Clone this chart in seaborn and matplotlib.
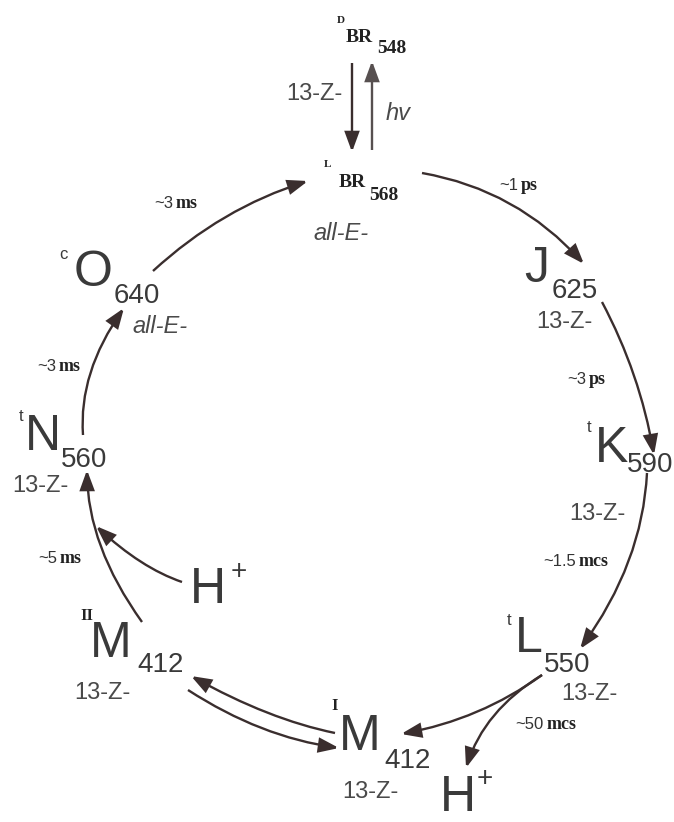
import numpy as np
import matplotlib
matplotlib.use("Agg")
import matplotlib.pyplot as plt
from matplotlib.path import Path
from matplotlib.patches import FancyArrowPatch
import seaborn as sns

# ---------------- data ----------------
states = ["O", "J", "K", "L", "M", "M", "N"]
state_prefix = ["c", "", "t", "t", "I", "II", "t"]
wavelengths = ["640", "625", "590", "550", "412", "412", "560"]
isomers = ["all-E-", "13-Z-", "13-Z-", "13-Z-", "13-Z-", "13-Z-", "13-Z-"]
br_states = ["BR", "BR"]
br_prefix = ["D", "L"]
br_wavelengths = ["548", "568"]
br_isomers = ["13-Z-", "all-E-"]
time_values = ["~3", "~1", "~3", "~1.5", "~50", "~5", "~3"]
time_units = ["ms", "ps", "ps", "mcs", "mcs", "ms", "ms"]
protons = ["H", "H"]
light_label = "hv"

# ---------------- layout (pixel coords, y down) ----------------
state_pos = [(74, 286), (524, 282), (595, 462), (515, 652), (339, 750), (90, 657), (25, 450)]
state_size = [36, 36, 36, 36, 36, 36, 36]
prefix_pos = [(59, 259), None, (587, 432), (507, 625), (331, 710), (80, 620), (19, 421)]
wl_pos = [(114, 303), (552, 298), (627, 472), (544, 672), (384, 768), (137, 672), (61, 467)]
iso_pos = [(132, 333), (536, 328), (569, 520), (561, 700), (342, 798), (74, 699), (12, 492)]

br_prefix_pos = [(337, 23), (324, 167)]
br_pos = [(346, 42), (339, 187)]
br_wl_pos = [(377, 53), (369, 200)]
br_iso_pos = [(343, 100, "right"), (313, 240, "left")]

time_pos = [(173, 208), (518, 190), (586, 384), (576, 566), (544, 729), (57, 563), (56, 371)]
proton_pos = [(190, 603), (440, 811)]
plus_pos = [(239, 572), (485, 779)]
light_pos = (386, 120)

# arrows: start, end, through-point at middle of curve (None = straight)
arrows = [
    ((153, 271), (308, 181), (226, 217)),   # O -> BR
    ((422, 173), (584, 264), (510, 204)),   # BR -> J
    ((602, 302), (654, 455), (634, 376)),   # J -> K
    ((647, 473), (580, 649), (628, 562)),   # K -> L
    ((542, 675), (401, 734), (476, 712)),   # L -> M(I)
    ((542, 675), (466, 768), (494, 716)),   # L -> H+
    ((335, 733), (191, 676), (266, 712)),   # M(I) -> M(II)
    ((188, 690), (339, 748), (262, 728)),   # M(II) -> M(I)
    ((142, 622), (87, 470), (101, 546)),    # M(II) -> N
    ((182, 582), (96, 526), (140, 561)),    # H+ -> N
    ((83, 435), (124, 308), (91, 372)),     # N -> O
    ((352, 63), (352, 152), None),          # D-BR -> L-BR
    ((372, 150), (372, 61), None),          # hv
]

SANS = "Liberation Sans"
SERIF = "Liberation Serif"
TXT = "#3a3a3a"
TXT2 = "#4a4a4a"
ARR = "#3a2e2e"

sns.set_theme(style="white")
fig = plt.figure(figsize=(6.74, 8.22), dpi=100)
ax = fig.add_axes([0, 0, 1, 1])
ax.set_xlim(0, 674)
ax.set_ylim(822, 0)
ax.axis("off")


def put(x, y, s, size, family=SANS, weight="normal", style="normal", color=TXT, ha="left"):
    ax.text(x, y, s, fontsize=size, family=family, fontweight=weight, fontstyle=style,
            color=color, ha=ha, va="baseline")


for i, st in enumerate(states):
    put(*state_pos[i], st, state_size[i])
    if state_prefix[i]:
        if state_prefix[i] in ("I", "II"):
            put(*prefix_pos[i], state_prefix[i], 12, family=SERIF, weight="bold", color="#222222")
        else:
            put(*prefix_pos[i], state_prefix[i], 12)
    put(*wl_pos[i], wavelengths[i], 20)
    put(*iso_pos[i], isomers[i], 17, color=TXT2,
        style="italic" if isomers[i].startswith("all") else "normal")

for i in range(2):
    put(*br_prefix_pos[i], br_prefix[i], 8, family=SERIF, weight="bold", color="#222222")
    put(*br_pos[i], br_states[i], 14, family=SERIF, weight="bold", color="#222222")
    put(*br_wl_pos[i], br_wavelengths[i], 14, family=SERIF, weight="bold", color="#222222")
    x, y, ha = br_iso_pos[i]
    put(x, y, br_isomers[i], 17, color=TXT2, ha=ha,
        style="italic" if br_isomers[i].startswith("all") else "normal")

for i in range(len(time_values)):
    x, y = time_pos[i]
    put(x, y, time_values[i], 12, color="#333333", ha="right")
    put(x + 3, y, time_units[i], 13, family=SERIF, weight="bold", color="#222222")

for i, p in enumerate(protons):
    put(*proton_pos[i], p, 36)
    ax.text(plus_pos[i][0], plus_pos[i][1], "+", fontsize=20, family=SANS, color=TXT,
            ha="center", va="center")

put(*light_pos, light_label, 17, style="italic", color=TXT2)

for j, (p0, p1, thr) in enumerate(arrows):
    p0 = np.array(p0, float)
    p1 = np.array(p1, float)
    if thr is None:
        path = Path([p0, p1], [Path.MOVETO, Path.LINETO])
    else:
        c = 2 * np.array(thr, float) - (p0 + p1) / 2
        path = Path([p0, c, p1], [Path.MOVETO, Path.CURVE3, Path.CURVE3])
    col = "#575050" if j == len(arrows) - 1 else ARR
    ax.add_patch(FancyArrowPatch(path=path,
                                 arrowstyle="-|>,head_length=0.6,head_width=0.22",
                                 mutation_scale=20, lw=1.7, color=col,
                                 joinstyle="miter", capstyle="butt"))

fig.savefig("out.png", dpi=100)
